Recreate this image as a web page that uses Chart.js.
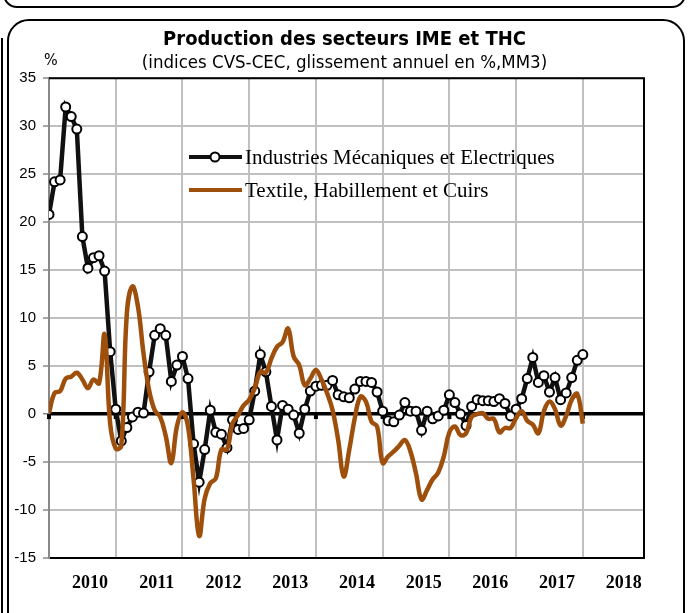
<!DOCTYPE html>
<html>
<head>
<meta charset="utf-8">
<script src="https://cdn.jsdelivr.net/npm/chart.js@4/dist/chart.umd.min.js"></script>
<style>
    body { margin: 0; background: #fff; }
    #wrap { position: relative; width: 689px; height: 613px; overflow: hidden; }
    .frame { position: absolute; border: 2px solid #000; }
    canvas { position: absolute; left: 0; top: 0; }
</style>
</head>
<body>
<div id="wrap">
    <div class="frame" style="left:3px;top:-30px;width:679px;height:34px;border-radius:14px"></div>
    <div class="frame" style="left:7px;top:19px;width:674px;height:640px;border-radius:22px"></div>
    <div class="frame" style="left:1px;top:38px;width:0;height:600px;border-width:0 0 0 2px"></div>
    <canvas id="chart" width="689" height="613"></canvas>
</div>
<script>
// monthly values, Jan 2010 -> Jan 2018
const firstYear = 2010;

const ime = [
    20.8, 24.2, 24.4, 32.0, 31.0, 29.7, 18.5, 15.2, 16.3, 16.5, 14.9, 6.5,
    0.5, -2.8, -1.4, -0.3, 0.2, 0.1, 4.4, 8.2, 8.9, 8.2, 3.4, 5.1,
    6.0, 3.7, -3.1, -7.1, -3.7, 0.4, -1.9, -2.1, -3.5, -0.6, -1.6, -1.5,
    -0.6, 2.4, 6.2, 4.4, 0.8, -2.7, 0.9, 0.5, -0.1, -2.0, 0.5, 2.4,
    2.9, 3.0, 3.0, 3.5, 2.0, 1.8, 1.7, 2.6, 3.4, 3.4, 3.3, 2.3,
    0.3, -0.7, -0.8, -0.1, 1.2, 0.3, 0.3, -1.7, 0.3, -0.5, -0.2, 0.4,
    2.0, 1.2, 0.0, -1.2, 0.8, 1.5, 1.4, 1.4, 1.3, 1.6, 1.1, -0.2,
    0.5, 1.6, 3.7, 5.9, 3.3, 4.0, 2.3, 3.8, 1.5, 2.2, 3.8, 5.6,
    6.2
];

const thc = [
    0.1, 2.2, 2.4, 3.7, 3.9, 4.3, 3.6, 2.7, 3.6, 3.2, 8.3, -1.0,
    -3.6, -3.3, 10.5, 13.3, 11.2, 6.3, 2.5, 0.4, -0.3, -2.3, -5.1, -1.3,
    0.2, -1.3, -6.8, -12.7, -8.8, -7.2, -6.7, -3.7, -3.7, -1.0, -0.1, 0.9,
    1.5, 2.7, 4.4, 4.3, 5.8, 7.0, 7.5, 8.9, 6.0, 5.1, 3.0, 3.7,
    4.6, 3.6, 2.2, 0.4, -2.7, -6.5, -3.7, -0.4, 1.8, 1.3, -0.8, -1.3,
    -5.1, -4.4, -3.9, -3.3, -2.7, -3.9, -6.2, -8.9, -7.9, -6.8, -6.1, -4.4,
    -1.9, -1.3, -2.2, -2.0, -0.3, 0.0, 0.1, -0.5, -0.5, -1.9, -1.45, -1.45,
    -0.4, 0.3, -0.7, -1.1, -2.0, 0.3, 1.3, 0.5, -1.2, -0.2, 1.5, 2.1,
    -1.0
];

const yearTicks = [0, 12, 24, 36, 48, 60, 72, 84, 96];
const seriesNames = ['Industries Mécaniques et Electriques', 'Textile, Habillement et Cuirs'];

const imeColor = '#111111';
const thcColor = '#9E4F0C';

// legend box + "%" + borders of the plot area
const decorPlugin = {
    id: 'decor',
    beforeDatasetsDraw(chart) {
        const { ctx, chartArea, scales } = chart;
        ctx.save();
        ctx.fillStyle = '#000';
        const y0 = scales.y.getPixelForValue(0);
        yearTicks.forEach(v => {
            const px = scales.x.getPixelForValue(v);
            ctx.fillRect(px - 2, y0, 4, 5);
        });
        ctx.strokeStyle = '#000';
        ctx.lineWidth = 2;
        ctx.beginPath();
        ctx.moveTo(chartArea.left, chartArea.top);
        ctx.lineTo(chartArea.right, chartArea.top);
        ctx.lineTo(chartArea.right, chartArea.bottom);
        ctx.stroke();
        ctx.restore();
    },
    afterDraw(chart) {
        const { ctx } = chart;
        ctx.save();
        ctx.fillStyle = '#000';
        ctx.font = '16px "DejaVu Sans Condensed", "DejaVu Sans"';
        ctx.textBaseline = 'middle';
        ctx.textAlign = 'left';
        ctx.fillText('%', 44, 61);

        const items = [
            { y: 157, color: imeColor, marker: true },
            { y: 190, color: thcColor, marker: false }
        ];
        ctx.font = '21px "Liberation Serif"';
        items.forEach((it, i) => {
            ctx.strokeStyle = it.color;
            ctx.lineWidth = 4;
            ctx.beginPath();
            ctx.moveTo(189, it.y);
            ctx.lineTo(242, it.y);
            ctx.stroke();
            if (it.marker) {
                ctx.beginPath();
                ctx.arc(215, it.y, 4.5, 0, Math.PI * 2);
                ctx.fillStyle = '#fff';
                ctx.fill();
                ctx.lineWidth = 2;
                ctx.strokeStyle = '#000';
                ctx.stroke();
            }
            ctx.fillStyle = '#000';
            ctx.fillText(seriesNames[i], 245, it.y + 1);
        });
        ctx.restore();
    }
};

new Chart(document.getElementById('chart'), {
    type: 'line',
    data: {
        datasets: [
            {
                label: seriesNames[0],
                data: ime.map((v, i) => ({ x: i, y: v })),
                borderColor: imeColor,
                borderWidth: 4.5,
                pointRadius: 4.5,
                pointBorderWidth: 2,
                pointBackgroundColor: '#fff',
                pointBorderColor: '#000',
                tension: 0,
                order: 1
            },
            {
                label: seriesNames[1],
                data: thc.map((v, i) => ({ x: i, y: v })),
                borderColor: thcColor,
                borderWidth: 4.5,
                pointRadius: 0,
                tension: 0.4,
                order: 0
            }
        ]
    },
    options: {
        responsive: false,
        animation: false,
        layout: {
            padding: { top: 20, left: 0, right: 0, bottom: 15 }
        },
        plugins: {
            legend: { display: false },
            tooltip: { enabled: false },
            title: {
                display: true,
                text: 'Production des secteurs IME et THC',
                color: '#000',
                font: { family: '"DejaVu Sans Condensed", "DejaVu Sans"', weight: 'bold', size: 20 },
                padding: { top: 8, bottom: 0 }
            },
            subtitle: {
                display: true,
                text: '(indices CVS-CEC, glissement annuel en %,MM3)',
                color: '#000',
                font: { family: '"DejaVu Sans Condensed", "DejaVu Sans"', size: 18.5 },
                padding: { top: 0, bottom: 4 }
            }
        },
        scales: {
            x: {
                type: 'linear',
                min: 0,
                max: 107,
                afterBuildTicks: scale => {
                    scale.ticks = yearTicks.map(v => ({ value: v }));
                },
                afterFit: scale => { scale.height = 40; },
                grid: { color: '#c0c0c0', lineWidth: 2, drawTicks: false },
                border: { color: '#000', width: 2 },
                ticks: {
                    callback: v => String(firstYear + v / 12),
                    labelOffset: 41,
                    padding: 15,
                    maxRotation: 0,
                    autoSkip: false,
                    color: '#000',
                    font: { family: '"Liberation Serif"', weight: 'bold', size: 18 }
                }
            },
            y: {
                min: -15,
                max: 35,
                afterFit: scale => { scale.width = 49; },
                grid: {
                    color: c => (c.tick.value === 0 ? '#000' : '#c0c0c0'),
                    lineWidth: c => (c.tick.value === 0 ? 3.5 : 2),
                    tickColor: '#888',
                    tickLength: 6,
                    tickWidth: 1.5
                },
                border: { color: '#888', width: 2 },
                ticks: {
                    stepSize: 5,
                    padding: 7,
                    color: '#000',
                    font: { family: '"Liberation Sans"', size: 15 }
                }
            },
            // empty right-hand strip so the titles stay centred on the page
            yRight: {
                position: 'right',
                afterFit: scale => { scale.width = 45; },
                grid: { display: false },
                border: { display: false },
                ticks: { display: false }
            }
        }
    },
    plugins: [decorPlugin]
});
</script>
</body>
</html>
